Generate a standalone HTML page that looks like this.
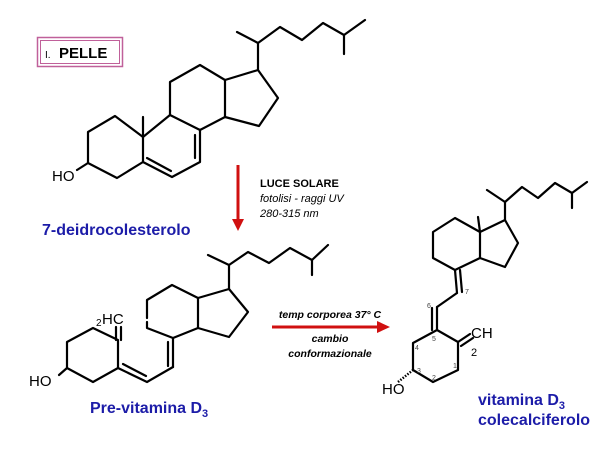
<!DOCTYPE html>
<html><head><meta charset="utf-8"><style>
html,body{margin:0;padding:0;background:#fff;}
svg{display:block;}
text{font-family:"Liberation Sans",Arial,sans-serif;}
</style></head><body>
<svg width="600" height="450" viewBox="0 0 600 450" xmlns="http://www.w3.org/2000/svg">
<rect width="600" height="450" fill="#fff"/>
<!-- PELLE box -->
<rect x="37.5" y="37.5" width="85" height="29" fill="none" stroke="#c0609a" stroke-width="1.5"/>
<rect x="40.5" y="40.5" width="79" height="23" fill="none" stroke="#c0609a" stroke-width="1"/>
<text x="45" y="58" font-size="10" fill="#000">I.</text>
<text x="59" y="58" font-size="15" font-weight="bold" fill="#000">PELLE</text>

<g fill="none" stroke="#000" stroke-width="2.2" stroke-linejoin="round" stroke-linecap="round">
<!-- 7-DHC -->
<polyline points="237,32 258,43 280,27 302,40 323,23 344,35 365,20"/>
<line x1="344" y1="35" x2="344" y2="54"/>
<line x1="258" y1="43" x2="258" y2="70"/>
<polygon points="258,70 278,98 259,126 225,117 225,80"/>
<polyline points="225,80 200,65 170,82 170,115 200,130 225,117"/>
<polyline points="170,115 143,137 143,162 172,177 200,162 200,130"/>
<line x1="143" y1="117" x2="143" y2="137"/>
<line x1="147" y1="158" x2="171" y2="171"/>
<line x1="195" y1="135" x2="195" y2="158"/>
<polyline points="143,137 115,116 88,132 88,163 117,178 143,162"/>
<line x1="88" y1="163" x2="77" y2="170"/>

<!-- Pre-vitamin D3 -->
<polyline points="208,255 229,265 248,252 269,263 290,248 312,260 328,245"/>
<line x1="312" y1="260" x2="312" y2="275"/>
<line x1="229" y1="265" x2="229" y2="289"/>
<polygon points="229,289 248,312 229,337 198,328 198,298"/>
<polyline points="198,298 172,285 147,300 147,318"/>
<polyline points="147,322 147,328 173,338 198,328"/>
<line x1="173" y1="338" x2="173" y2="367"/>
<line x1="168" y1="342" x2="168" y2="366"/>
<polyline points="173,367 147,382 118,368"/>
<line x1="146" y1="376" x2="123" y2="364"/>
<polyline points="118,368 93,382 67,368 67,342 93,328 118,340 118,368"/>
<line x1="116" y1="340" x2="116" y2="327"/>
<line x1="121" y1="340" x2="121" y2="327"/>
<line x1="59" y1="375" x2="67" y2="368"/>

<!-- Vitamin D3 -->
<polyline points="487,190 505,202 522,187 538,198 555,183 572,193 587,182"/>
<line x1="572" y1="193" x2="572" y2="208"/>
<line x1="505" y1="202" x2="505" y2="220"/>
<polygon points="505,220 518,243 505,267 480,258 480,232"/>
<line x1="480" y1="232" x2="478" y2="217"/>
<polyline points="480,232 455,218 433,232 433,258 455,270 480,258"/>
<line x1="455" y1="270" x2="457" y2="293"/>
<line x1="460" y1="270" x2="462" y2="292"/>
<line x1="457" y1="293" x2="437" y2="307"/>
<line x1="437" y1="307" x2="437" y2="330"/>
<line x1="432" y1="308" x2="432" y2="330"/>
<polyline points="437,330 413,343 413,370 433,382 458,370 458,342 437,330"/>
<line x1="458" y1="342" x2="470" y2="334"/>
<line x1="461" y1="346" x2="473" y2="338"/>
</g>
<line x1="398" y1="382" x2="413" y2="370" stroke="#000" stroke-width="2.5" stroke-dasharray="1.5,1.5"/>

<!-- labels chemistry -->
<text x="52" y="181" font-size="15" fill="#000">HO</text>
<text x="96" y="326" font-size="10" fill="#000">2</text>
<text x="102" y="324" font-size="15" fill="#000">HC</text>
<text x="29" y="386" font-size="15" fill="#000">HO</text>
<text x="382" y="394" font-size="15" fill="#000">HO</text>
<text x="471" y="338" font-size="15" fill="#000">CH</text>
<text x="471" y="356" font-size="11" fill="#000">2</text>
<g font-size="7" fill="#444">
<text x="465" y="294">7</text><text x="427" y="308">6</text><text x="432" y="341">5</text>
<text x="415" y="350">4</text><text x="417" y="373">3</text><text x="432" y="380">2</text>
<text x="453" y="368">1</text>
</g>

<!-- red arrows -->
<line x1="238" y1="165" x2="238" y2="220" stroke="#d01010" stroke-width="3"/>
<polygon points="232,219 244,219 238,231" fill="#d01010"/>
<line x1="272" y1="327" x2="378" y2="327" stroke="#d01010" stroke-width="3"/>
<polygon points="377,321 377,333 390,327" fill="#d01010"/>

<!-- text -->
<text x="260" y="187" font-size="11" font-weight="bold" fill="#000">LUCE SOLARE</text>
<text x="260" y="202" font-size="11" font-style="italic" fill="#000">fotolisi  - raggi UV</text>
<text x="260" y="217" font-size="11" font-style="italic" fill="#000">280-315 nm</text>
<text x="42" y="235" font-size="16" font-weight="bold" fill="#1c1ca8">7-deidrocolesterolo</text>
<text x="330" y="318" font-size="10.5" font-weight="bold" font-style="italic" text-anchor="middle" fill="#000">temp corporea 37° C</text>
<text x="330" y="342" font-size="10.5" font-weight="bold" font-style="italic" text-anchor="middle" fill="#000">cambio</text>
<text x="330" y="357" font-size="10.5" font-weight="bold" font-style="italic" text-anchor="middle" fill="#000">conformazionale</text>
<text x="90" y="413" font-size="16" font-weight="bold" fill="#1c1ca8">Pre-vitamina D<tspan font-size="11" dy="4">3</tspan></text>
<text x="478" y="405" font-size="16" font-weight="bold" fill="#1c1ca8">vitamina D<tspan font-size="11" dy="4">3</tspan></text>
<text x="478" y="425" font-size="16" font-weight="bold" fill="#1c1ca8">colecalciferolo</text>
</svg>
</body></html>
